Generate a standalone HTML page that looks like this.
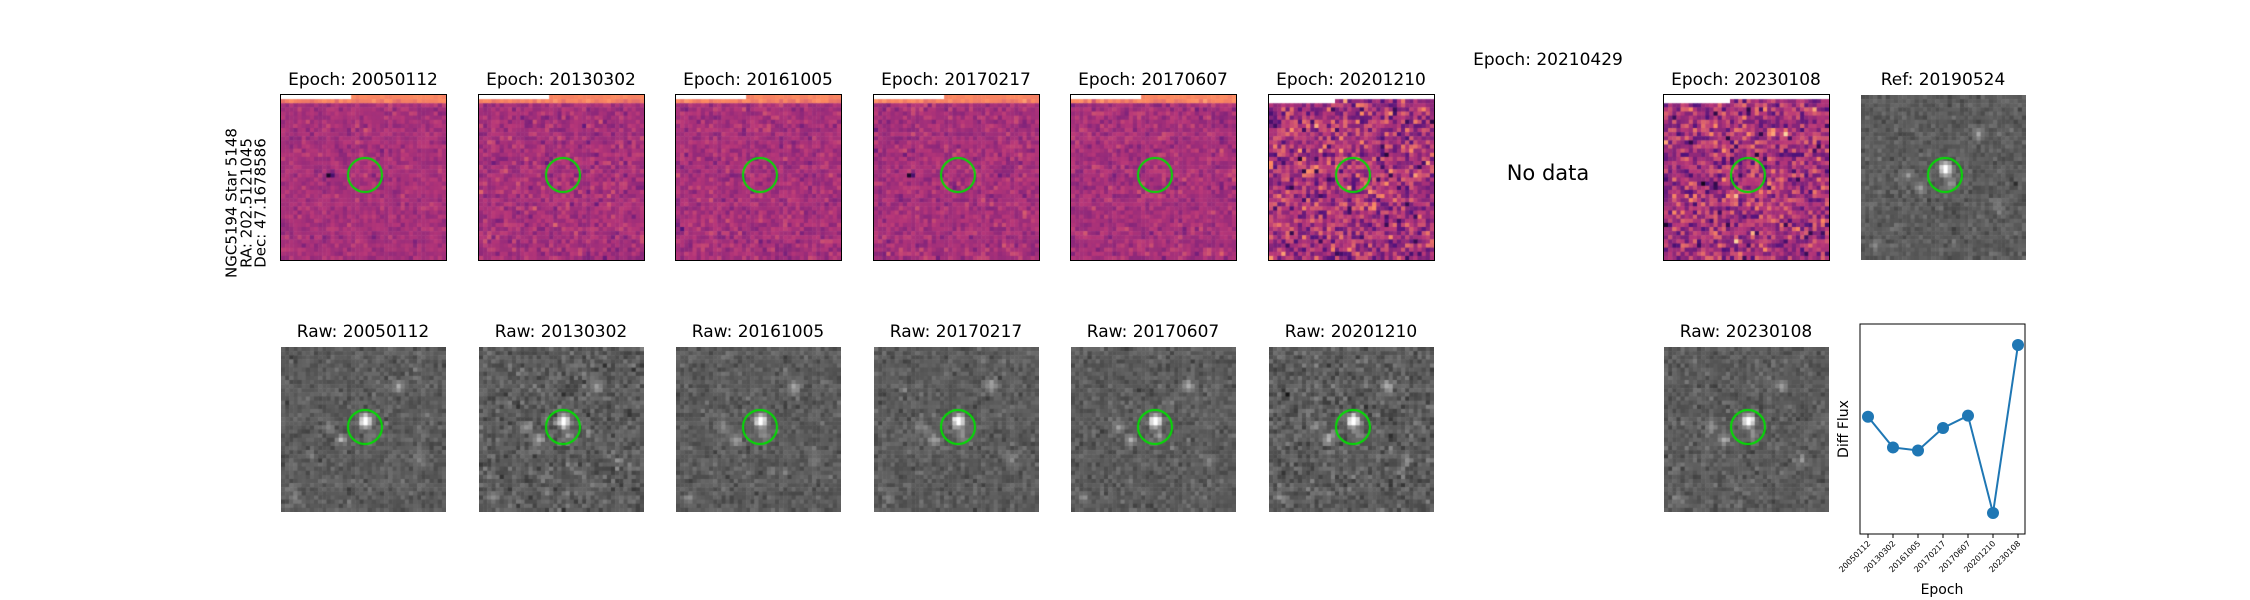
<!DOCTYPE html>
<html><head><meta charset="utf-8"><style>
body{margin:0;background:#fff;width:2250px;height:600px;position:relative;overflow:hidden;font-family:"DejaVu Sans","Liberation Sans",sans-serif;}
.t{position:absolute;font-size:17px;color:#000;text-align:center;width:260px;white-space:nowrap}
canvas{position:absolute}
</style></head><body>
<div id="root"></div>
<div style="position:absolute;left:246px;top:203px;width:0;height:0">
<div style="position:absolute;transform:translate(-50%,-50%) rotate(-90deg);white-space:nowrap;font-size:15px;line-height:14.5px;text-align:center;">NGC5194 Star 5148<br>RA: 202.5121045<br>Dec: 47.1678586</div></div>
<div class="t" style="left:1418px;top:50px">Epoch: 20210429</div>
<div class="t" style="left:1418px;top:161px;font-size:21px">No data</div>
<svg id="lc" width="2250" height="600" style="position:absolute;left:0;top:0"></svg>
<script>
const epochs=["20050112","20130302","20161005","20170217","20170607","20201210","20230108"];
const diffFlux=[94,64,61,83,95,0,164];
const cols=[281,479,676,874,1071,1269,1664];
let seed=12345;function rnd(){seed=(seed*1103515245+12345)%2147483648;return seed/2147483648;}
function gauss(){let u=rnd()||1e-9,v=rnd();return Math.sqrt(-2*Math.log(u))*Math.cos(2*Math.PI*v);}
const stops=[[0,0,0,4],[0.25,81,18,124],[0.5,183,55,121],[0.75,252,137,97],[1,252,253,191]];
function magma(t){t=Math.max(0,Math.min(1,t));for(let i=1;i<stops.length;i++){if(t<=stops[i][0]){const a=stops[i-1],b=stops[i],f=(t-a[0])/(b[0]-a[0]);return [0,1,2].map(k=>Math.round(a[k+1]+(b[k+1]-a[k+1])*f));}}return [252,253,191];}
const root=document.getElementById('root');
function title(x,y,txt,name){const d=document.createElement('div');d.className='t';d.style.left=(x+82-130)+'px';d.style.top=y+'px';d.textContent=txt;


root.appendChild(d);}
function circle(ctx,cx,cy){ctx.strokeStyle='#00e000';ctx.lineWidth=2;ctx.beginPath();ctx.arc(cx,cy,17,0,Math.PI*2);ctx.stroke();}
function makeCanvas(x,y,name,border){const c=document.createElement('canvas');c.width=165;c.height=165;c.style.left=x+'px';c.style.top=y+'px';if(border){c.style.outline='1px solid #000';}


root.appendChild(c);return c.getContext('2d');}
const N=40,P=165/N;
function diffPanel(x,name,sd,noisy,dark){const ctx=makeCanvas(x,95,name,true);
for(let j=0;j<N;j++)for(let i=0;i<N;i++){let v=0.46+sd*gauss();
if(!noisy){ if(j==0) v=(i<17?1.2:0.72+0.04*rnd()); else if(j==1) v=0.72+0.03*gauss(); }
else { if(j==0||(j==1&&i<16)) v=1.2; }
if(dark&&i==dark[0]&&j==dark[1])v=0.08;
if(dark&&i==dark[0]+1&&j==dark[1])v=0.22;
const c=v>1.1?[255,255,255]:magma(v);ctx.fillStyle=`rgb(${c})`;ctx.fillRect(i*P,j*P,P+0.5,P+0.5);}
circle(ctx,84,80);}
function greyPanel(x,y,name,sd){const ctx=makeCanvas(x,y,name,false);
const stars=[[20,17,1],[20,18,0.8],[14,22,0.5],[28,9,0.5],[11,19,0.35],[21,21,0.35],[3,36,0.3],[33,27,0.25]];
for(let j=0;j<N;j++)for(let i=0;i<N;i++){let v=92+sd*gauss();
for(const s of stars){const d=(i-s[0])**2+(j-s[1])**2;v+=s[2]*160*Math.exp(-d/1.5);}
v=Math.max(0,Math.min(255,v));ctx.fillStyle=`rgb(${v|0},${v|0},${v|0})`;ctx.fillRect(i*P,j*P,P+0.5,P+0.5);}
circle(ctx,84,80);}
const sds=[0.035,0.05,0.045,0.045,0.045,0.12,0.12];
epochs.forEach((e,k)=>{const x=cols[k];
title(x,70,'Epoch: '+e,'title-epoch-'+e);
diffPanel(x,'diff-image-'+e,sds[k],k>=5,k==0?[11,19]:(k==3?[8,19]:null));
title(x,322,'Raw: '+e,'title-raw-'+e);
greyPanel(x,347,'raw-image-'+e,k==5||k==1?15:11);
});
title(1861,70,'Ref: 20190524','title-ref');
greyPanel(1861,95,'ref-image',10);
const svg=document.getElementById('lc');const NS='http://www.w3.org/2000/svg';
const ax={l:1860,r:2025,t:324,b:534};
const vmin=Math.min(...diffFlux),vmax=Math.max(...diffFlux),m=(vmax-vmin)*0.125;
const xs=i=>1868+i*(2018-1868)/(epochs.length-1);
const ys=v=>ax.b-(v-(vmin-m))/((vmax+m)-(vmin-m))*(ax.b-ax.t);
function el(tag,attrs,parent){const e=document.createElementNS(NS,tag);for(const k in attrs)e.setAttribute(k,attrs[k]);(parent||svg).appendChild(e);return e;}
const frame=el('rect',{x:ax.l,y:ax.t,width:ax.r-ax.l,height:ax.b-ax.t,fill:'none',stroke:'#000','stroke-width':1});


const line=el('polyline',{points:diffFlux.map((v,i)=>xs(i)+','+ys(v)).join(' '),fill:'none',stroke:'#1f77b4','stroke-width':2});


diffFlux.forEach((v,i)=>{const c=el('circle',{cx:xs(i),cy:ys(v),r:6,fill:'#1f77b4'});


el('line',{x1:xs(i),x2:xs(i),y1:ax.b,y2:ax.b+4,stroke:'#000'});
const t=el('text',{x:xs(i)+3,y:ax.b+10,'font-size':8,'text-anchor':'end',transform:`rotate(-45 ${xs(i)+3} ${ax.b+10})`,'font-family':'DejaVu Sans, sans-serif'});t.textContent=epochs[i];

});
const yl=el('text',{x:1848,y:429,'font-size':14,'text-anchor':'middle',transform:'rotate(-90 1848 429)','font-family':'DejaVu Sans, sans-serif'});yl.textContent='Diff Flux';


const xl=el('text',{x:1942,y:594,'font-size':14,'text-anchor':'middle','font-family':'DejaVu Sans, sans-serif'});xl.textContent='Epoch';


</script>
</body></html>
